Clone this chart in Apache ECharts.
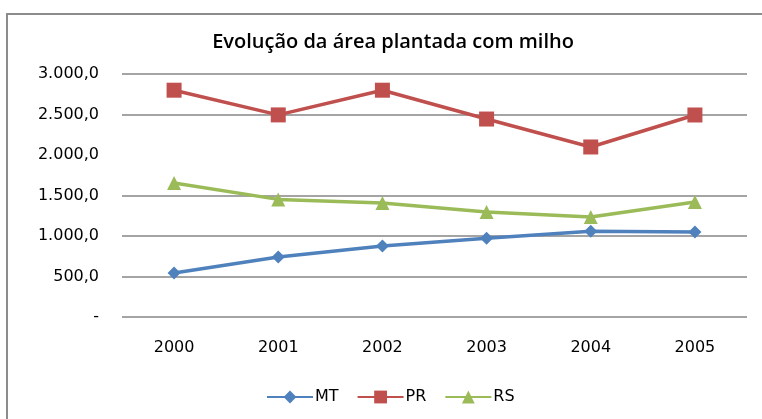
<!DOCTYPE html>
<html>
<head>
<meta charset="utf-8">
<script src="https://cdn.jsdelivr.net/npm/echarts@6/dist/echarts.min.js"></script>
<style>
html,body{margin:0;padding:0;background:#fff;}
#chart{width:762px;height:419px;}
</style>
</head>
<body>
<div id="chart"></div>
<script>
const categories = ['2000', '2001', '2002', '2003', '2004', '2005'];
const mtValues = [543, 741, 877, 971, 1060, 1050];
const prValues = [2800, 2495, 2800, 2444, 2099, 2494];
const rsValues = [1654, 1452, 1407, 1296, 1235, 1420];
const yTicks = [0, 500, 1000, 1500, 2000, 2500, 3000];

function fmt(v) {
  if (v === 0) return '-';
  const parts = v.toFixed(1).split('.');
  const intPart = parts[0].replace(/\B(?=(\d{3})+(?!\d))/g, '.');
  return intPart + ',' + parts[1];
}

const chart = echarts.init(document.getElementById('chart'));
const font = 'DejaVu Sans';
chart.setOption({
  animation: false,
  backgroundColor: '#fff',
  title: {
    text: 'Evolução da área plantada com milho',
    left: 388, top: 27, textAlign: 'center',
    textStyle: { fontFamily: 'Open Sans', fontSize: 20, fontWeight: 600, color: '#000' }
  },
  graphic: [{
    type: 'polyline',
    shape: { points: [[7, 420], [7, 14], [763, 14]] },
    style: { stroke: '#8c8c8c', lineWidth: 2, fill: null }
  }],
  legend: {
    top: 384, left: 261,
    itemWidth: 46, itemHeight: 16, itemGap: 18,
    textStyle: { fontFamily: font, fontSize: 16, color: '#000', padding: [0, 0, 0, -3] },
    data: ['MT', 'PR', 'RS']
  },
  grid: { left: 122, right: 15, top: 74, bottom: 102, containLabel: false },
  xAxis: {
    type: 'category', data: categories, boundaryGap: true,
    axisLine: { show: false }, axisTick: { show: false },
    axisLabel: { fontFamily: font, fontSize: 16, color: '#000', margin: 23 }
  },
  yAxis: {
    type: 'value', min: 0, max: 3000, interval: 500,
    axisLine: { show: false }, axisTick: { show: false },
    splitLine: { lineStyle: { color: ['#868686', '#868686', '#868686', '#868686', 'rgba(0,0,0,0)', '#868686', '#868686'], width: 1.5 } },
    axisLabel: { fontFamily: font, fontSize: 16, color: '#000', margin: 23, formatter: fmt }
  },
  series: [
    { name: 'MT', type: 'line', data: mtValues, color: '#4F81BD',
      lineStyle: { width: 3.5 }, symbol: 'diamond', symbolSize: 13, itemStyle: { color: '#4F81BD' } },
    { name: 'PR', type: 'line', data: prValues, color: '#C0504D',
      lineStyle: { width: 3.5 }, symbol: 'rect', symbolSize: 15, itemStyle: { color: '#C0504D' } },
    { name: 'RS', type: 'line', data: rsValues, color: '#9BBB59',
      lineStyle: { width: 3.5 }, symbol: 'triangle', symbolSize: 14, itemStyle: { color: '#9BBB59' } }
  ]
});
</script>
</body>
</html>
